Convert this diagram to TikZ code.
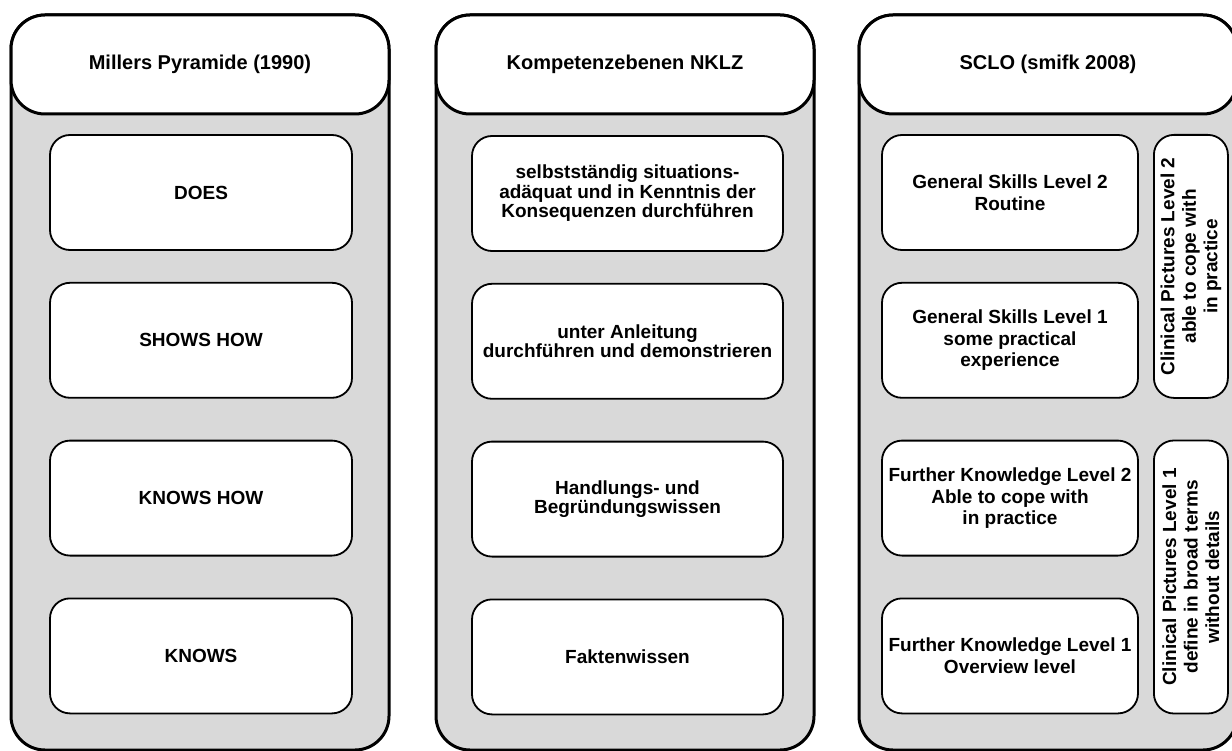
\documentclass[tikz,border=0pt]{standalone}
\usepackage{fontspec}
\setmainfont{Liberation Sans}
\usetikzlibrary{calc}
\usetikzlibrary{positioning}

\begin{document}
\begin{tikzpicture}[x=1pt,y=-1pt,node distance=31pt,line join=round]
	\tikzstyle{column}=[draw=black, fill=black!15, line width=3pt, rounded corners=34pt, minimum width=378pt, minimum height=735pt]
	\tikzstyle{head}=[draw=black, fill=white, line width=3pt, rounded corners=34pt, minimum width=378pt, minimum height=99pt, font=\fontsize{20}{22}\selectfont\bfseries]
	\tikzstyle{level}=[draw=black, fill=white, line width=1.8pt, rounded corners=20pt, minimum height=115pt, align=center, inner sep=2pt, font=\fontsize{19}{19.5}\selectfont\bfseries]
	\tikzstyle{sclo}=[level, minimum width=256pt, font=\fontsize{19}{21.5}\selectfont\bfseries]
	\tikzstyle{side}=[level, rotate=90, minimum height=74pt, font=\fontsize{19}{21.5}\selectfont\bfseries]
	\useasboundingbox (0,0) rectangle (1232,751);

		\foreach \i/\x/\t in {1/200/{Millers Pyramide (1990)},2/625/{Kompetenzebenen NKLZ},3/1048/{SCLO (smifk 2008)}}{
			\node[column] (col\i) at (\x,382.5) {};
			\node[head, anchor=north] (head\i) at (col\i.north) {\t};
		}

		\node[level, minimum width=302pt] (does) at (201,192.5) {DOES};
		\node[level, minimum width=302pt] (shows) [below=of does] {SHOWS HOW};
		\node[level, minimum width=302pt] (knowshow) [below=41pt of shows] {KNOWS HOW};
		\node[level, minimum width=302pt] (knows) [below=41pt of knowshow] {KNOWS};

		\node[level, minimum width=311pt] (selbst) at (627.5,193.5) {selbstständig situations-\\adäquat und in Kenntnis der\\Konsequenzen durchführen};
		\node[level, minimum width=311pt] (anleitung) [below=of selbst] {unter Anleitung\\durchführen und demonstrieren};
		\node[level, minimum width=311pt] (handlung) [below=41pt of anleitung] {Handlungs- und\\Begründungswissen};
		\node[level, minimum width=311pt] (fakten) [below=41pt of handlung] {Faktenwissen};

		\node[sclo] (gs2) at (1010,192.5) {General Skills Level 2\\Routine};
		\node[sclo] (gs1) [below=of gs2] {General Skills Level 1\\some practical\\experience};
		\node[sclo] (fk2) [below=41pt of gs1] {Further Knowledge Level 2\\Able to cope with\\in practice};
		\node[sclo] (fk1) [below=41pt of fk2] {Further Knowledge Level 1\\Overview level};

		\node[side, minimum width=263pt] (cp2) at ($(gs2.north east)!0.5!(gs1.south east)+(52,0)$) {Clinical Pictures Level 2\\able to cope with\\in practice};
		\node[side, minimum width=273pt] (cp1) at ($(fk2.north east)!0.5!(fk1.south east)+(52,0)$) {Clinical Pictures Level 1\\define in broad terms\\without details};
\end{tikzpicture}
\end{document}
